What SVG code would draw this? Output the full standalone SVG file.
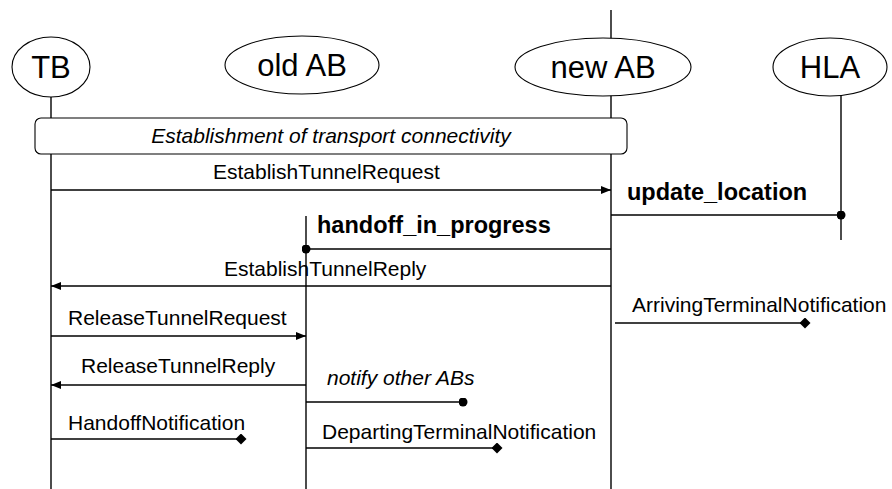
<svg xmlns="http://www.w3.org/2000/svg" width="892" height="489" viewBox="0 0 892 489">
<defs>
<marker id="arrow" viewBox="0 0 10 8" refX="10" refY="4" markerWidth="10" markerHeight="8" markerUnits="userSpaceOnUse" orient="auto">
<path d="M0,0 L10,4 L0,8 Z" fill="#000"/>
</marker>
<marker id="dot" viewBox="0 0 10 10" refX="5" refY="5" markerWidth="9" markerHeight="9" markerUnits="userSpaceOnUse" orient="auto">
<circle cx="5" cy="5" r="5" fill="#000"/>
</marker>
<marker id="diamond" viewBox="0 0 10 10" refX="5" refY="5" markerWidth="11" markerHeight="11" markerUnits="userSpaceOnUse" orient="auto">
<path d="M0,5 L5,0 L10,5 L5,10 Z" fill="#000"/>
</marker>
</defs>
<style>
text{font-family:"Liberation Sans",Arial,sans-serif;fill:#000}
.lbl{font-size:21px}
.it{font-size:21px;font-style:italic}
.bd{font-size:23.5px;font-weight:bold}
.nm{font-size:31px;text-anchor:middle}
.life{stroke:#000;stroke-width:1.4;fill:none}
.msg{stroke:#000;stroke-width:1.3;fill:none}
.node{fill:#fff;stroke:#000;stroke-width:1.1}
</style>
<rect width="892" height="489" fill="#fff"/>
<g id="lifelines">
<line class="life" x1="51" y1="97" x2="51" y2="489"/>
<line class="life" x1="306" y1="216" x2="306" y2="489"/>
<line class="life" x1="611" y1="10" x2="611" y2="489"/>
<line class="life" x1="841" y1="96" x2="841" y2="240"/>
</g>
<g id="node-TB">
<ellipse class="node" cx="51" cy="67" rx="39" ry="30"/>
<text class="nm" x="51" y="78">TB</text>
</g>
<g id="node-oldAB">
<ellipse class="node" cx="302" cy="65" rx="77" ry="29"/>
<text class="nm" x="302" y="76">old AB</text>
</g>
<g id="node-newAB">
<ellipse class="node" cx="603" cy="67" rx="88" ry="29"/>
<text class="nm" x="603" y="78">new AB</text>
</g>
<g id="node-HLA">
<ellipse class="node" cx="830" cy="67" rx="57" ry="29"/>
<text class="nm" x="830" y="78">HLA</text>
</g>
<g id="node-establishment">
<rect class="node" x="35" y="118" width="592" height="36" rx="6"/>
<text class="it" x="331" y="143" text-anchor="middle">Establishment of transport connectivity</text>
</g>
<g id="connectors">
<line class="msg" x1="51" y1="190" x2="611" y2="190" marker-end="url(#arrow)"/>
<line class="msg" x1="611" y1="215" x2="841" y2="215" marker-end="url(#dot)"/>
<line class="msg" x1="611" y1="249" x2="306" y2="249" marker-end="url(#dot)"/>
<line class="msg" x1="611" y1="286" x2="51" y2="286" marker-end="url(#arrow)"/>
<line class="msg" x1="615" y1="323" x2="805" y2="323" marker-end="url(#diamond)"/>
<line class="msg" x1="51" y1="336" x2="306" y2="336" marker-end="url(#arrow)"/>
<line class="msg" x1="306" y1="385" x2="51" y2="385" marker-end="url(#arrow)"/>
<line class="msg" x1="306" y1="402" x2="463" y2="402" marker-end="url(#dot)"/>
<line class="msg" x1="51" y1="439" x2="241" y2="439" marker-end="url(#diamond)"/>
<line class="msg" x1="306" y1="448" x2="497" y2="448" marker-end="url(#diamond)"/>
</g>
<g id="labels">
<text class="lbl" x="213" y="179">EstablishTunnelRequest</text>
<text class="bd" x="627" y="200">update_location</text>
<text class="bd" x="317" y="233">handoff_in_progress</text>
<text class="lbl" x="224" y="276">EstablishTunnelReply</text>
<text class="lbl" x="632" y="312">ArrivingTerminalNotification</text>
<text class="lbl" x="68" y="325">ReleaseTunnelRequest</text>
<text class="lbl" x="81" y="373">ReleaseTunnelReply</text>
<text class="it" x="327" y="385">notify other ABs</text>
<text class="lbl" x="68" y="430">HandoffNotification</text>
<text class="lbl" x="322" y="439">DepartingTerminalNotification</text>
</g>
</svg>
